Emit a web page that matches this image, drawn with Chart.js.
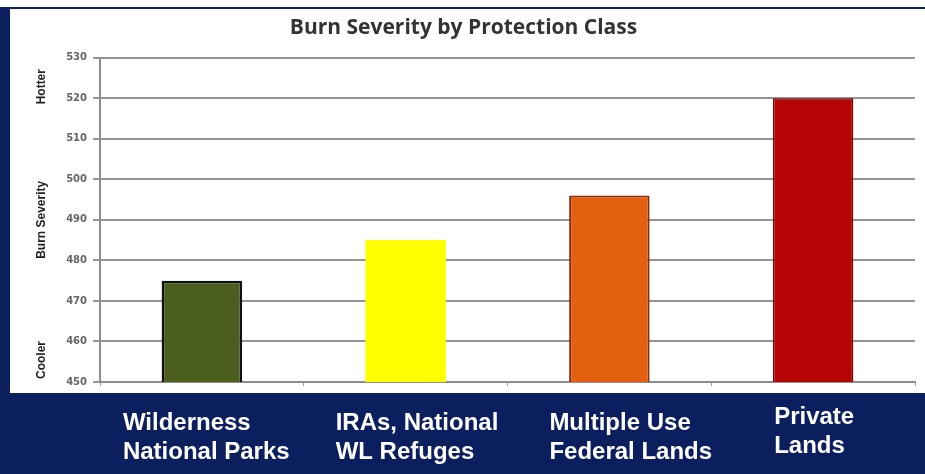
<!DOCTYPE html>
<html>
<head>
<meta charset="utf-8">
<title>Burn Severity by Protection Class</title>
<script src="https://cdn.jsdelivr.net/npm/chart.js@4.4.1/dist/chart.umd.min.js"></script>
<style>
  html, body { margin: 0; padding: 0; background: #fff; }
  #severityChart { display: block; }
</style>
</head>
<body>
<canvas id="severityChart" width="925" height="474"></canvas>
<script>
// protection classes, two lines each for the band under the chart
var classNames = [
    ["Wilderness", "National Parks"],
    ["IRAs, National", "WL Refuges"],
    ["Multiple Use", "Federal Lands"],
    ["Private", "Lands"]
];
var severity = [475, 485, 496, 520];
var severityMin = 450;
var severityMax = 530;
var severityStep = 10;
var sideNotes = ["Hotter", "Burn Severity", "Cooler"];

var barColors = ["#4b5e1d", "#ffff00", "#e2600f", "#b40404"];
var barBorders = ["#111111", "#ffff00", "#8a2a06", "#7a0202"];
var barBorderWidths = [2.5, 0, 2, 1.5];

// where each name sits relative to its bar centre
var bandShift = [-79, -70, -60, -39];
var bandLift = [0, 0, 0, -6];
var navy = "#0b1f5e";

var framePlugin = {
    id: "frame",
    beforeDraw: function (chart) {
        var c = chart.ctx;
        c.save();
        c.fillStyle = "#ffffff";
        c.fillRect(0, 0, chart.width, chart.height);
        c.fillStyle = navy;
        c.fillRect(0, 7, chart.width, 2);
        c.fillRect(0, 7, 10, 386);
        c.fillRect(0, 393, chart.width, chart.height - 393);
        c.restore();
    },
    afterDraw: function (chart) {
        var c = chart.ctx;
        var area = chart.chartArea;
        var xScale = chart.scales.x;
        c.save();

        // Hotter / Burn Severity / Cooler up the left side
        c.fillStyle = "#222";
        c.font = "bold 12px 'Liberation Sans', Arial, sans-serif";
        c.textAlign = "center";
        c.textBaseline = "middle";
        var noteY = [area.top + 29, (area.top + area.bottom) / 2, area.bottom - 22];
        sideNotes.forEach(function (t, i) {
            c.save();
            c.translate(42, noteY[i]);
            c.rotate(-Math.PI / 2);
            c.fillText(t, 0, 0);
            c.restore();
        });

        // class names on the navy band
        c.fillStyle = "#ffffff";
        c.font = "bold 24px 'Liberation Sans', Arial, sans-serif";
        c.textAlign = "left";
        c.textBaseline = "alphabetic";
        classNames.forEach(function (lines, i) {
            var left = xScale.getPixelForValue(i) + bandShift[i];
            lines.forEach(function (line, j) {
                c.fillText(line, left, 430 + bandLift[i] + j * 29);
            });
        });
        c.restore();
    }
};

var ctx = document.getElementById("severityChart");
var severityChart = new Chart(ctx, {
    type: "bar",
    data: {
        labels: classNames,
        datasets: [{
            data: severity,
            backgroundColor: barColors,
            borderColor: barBorders,
            borderWidth: barBorderWidths,
            borderSkipped: false,
            barPercentage: 0.395,
            categoryPercentage: 1
        }]
    },
    options: {
        responsive: false,
        animation: false,
        devicePixelRatio: 1,
        layout: {
            padding: { left: 12, right: 10, top: 0, bottom: 88 }
        },
        plugins: {
            legend: { display: false },
            tooltip: { enabled: false },
            title: {
                display: true,
                text: "Burn Severity by Protection Class",
                color: "#333",
                font: { family: "Open Sans", size: 21, weight: "bold" },
                padding: { top: 15, bottom: 17.5 }
            }
        },
        scales: {
            x: {
                grid: { drawOnChartArea: false, drawTicks: true, tickLength: 4, color: "#9a9a9a", lineWidth: 1 },
                border: { color: "#8e8e8e", width: 2 },
                ticks: { display: false },
                afterFit: function (scale) { scale.height = 4; }
            },
            y: {
                min: severityMin,
                max: severityMax,
                ticks: {
                    stepSize: severityStep,
                    padding: 6,
                    color: "#666",
                    font: { family: "DejaVu Sans", size: 10, weight: "bold" }
                },
                grid: { color: "#959595", lineWidth: 2, tickLength: 7 },
                border: { color: "#8e8e8e", width: 2 },
                afterFit: function (scale) { scale.width = 88; }
            }
        }
    },
    plugins: [framePlugin]
});
</script>
</body>
</html>
